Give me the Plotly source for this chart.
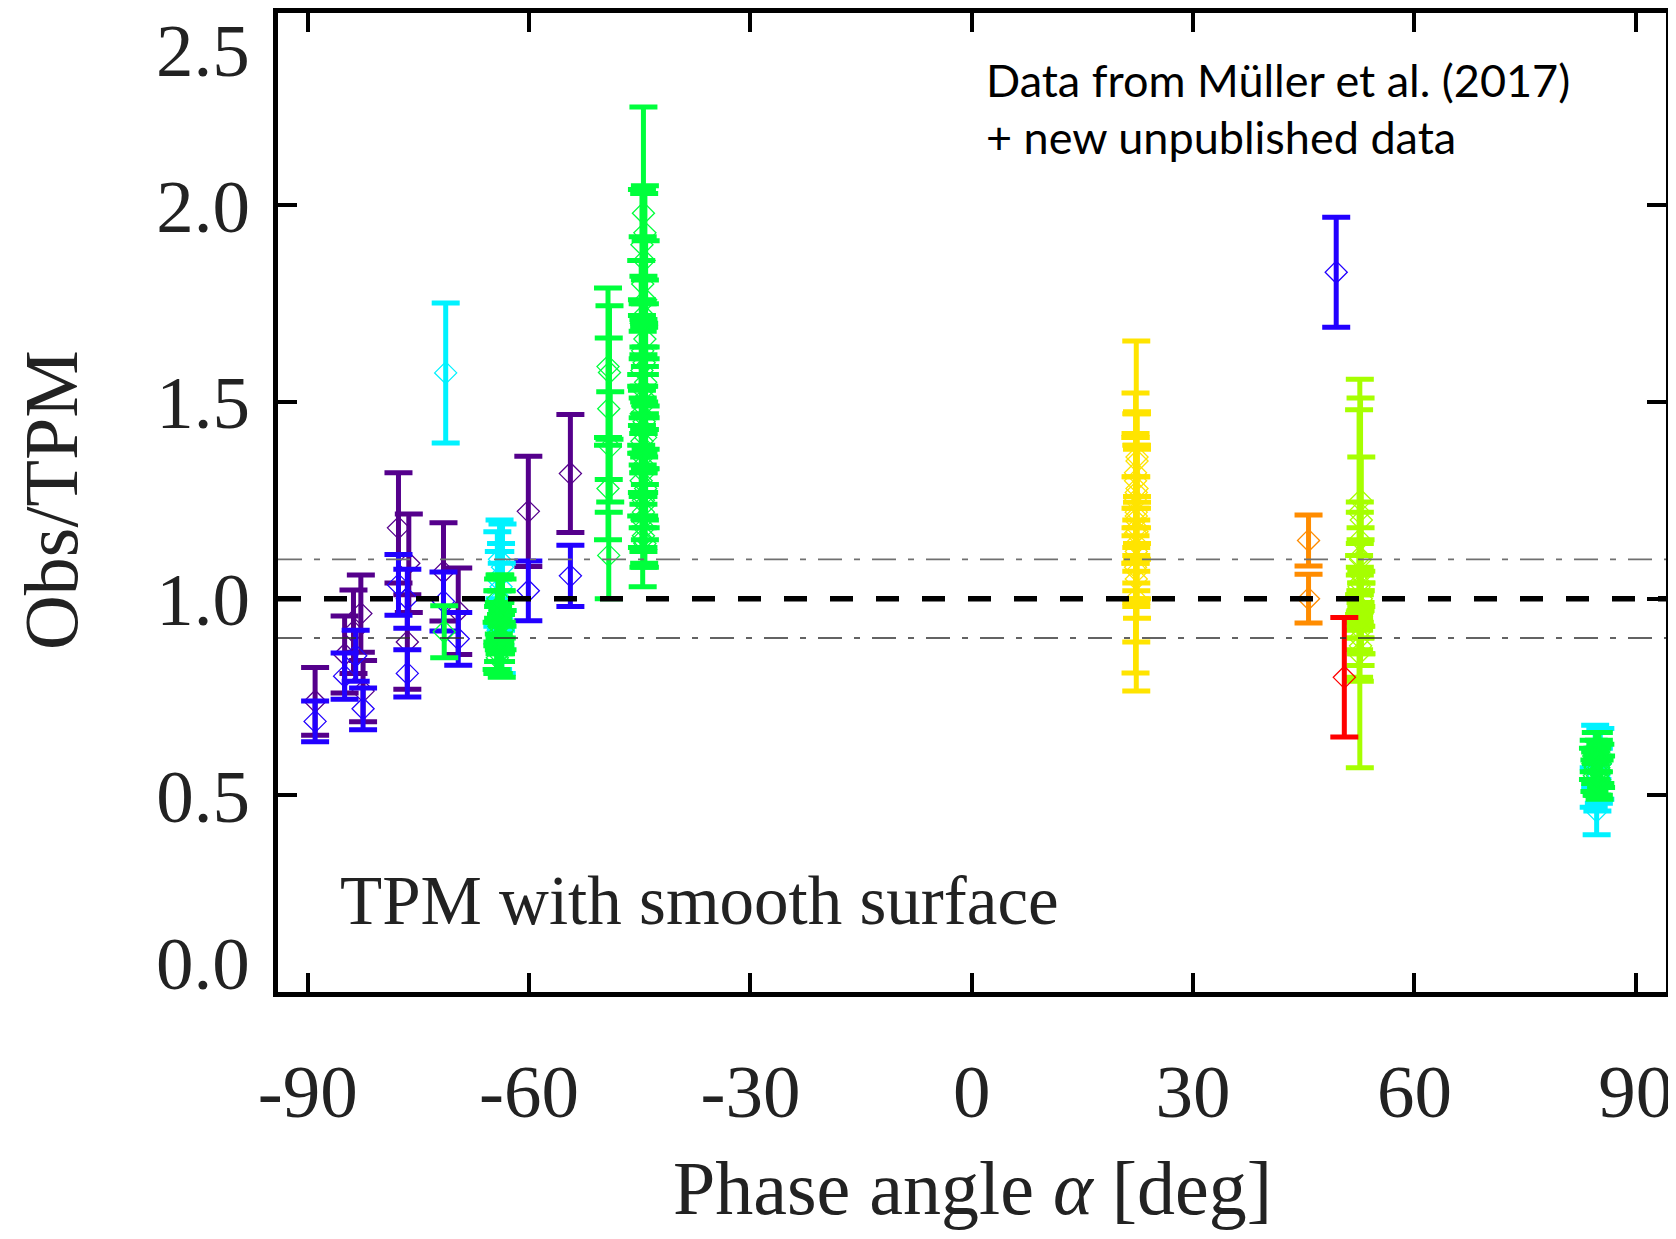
import plotly.graph_objects as go

# ---------------- data ----------------
# purple
purple_x = [-89.0, -85.0, -83.8, -82.8, -82.5, -77.7, -76.3, -76.5, -71.6, -69.6, -60.1, -54.4]
purple_y = [0.739, 0.858, 0.916, 0.962, 0.765, 1.18, 1.09, 0.89, 1.068, 0.968, 1.222, 1.318]
purple_e = [0.086, 0.098, 0.106, 0.098, 0.078, 0.14, 0.125, 0.12, 0.125, 0.11, 0.14, 0.15]

# blue
blue_x = [-89.0, -85.0, -83.5, -82.5, -77.7, -76.5, -76.5, -71.6, -69.6, -60.1, -54.4, 49.4]
blue_y = [0.688, 0.803, 0.855, 0.72, 1.035, 1.0, 0.81, 0.993, 0.898, 1.02, 1.058, 1.83]
blue_e = [0.052, 0.059, 0.065, 0.053, 0.077, 0.075, 0.06, 0.075, 0.067, 0.076, 0.078, 0.14]

# cyan
cyan_x = [-71.3, -64.0, -63.6, -64.3, -63.8, -64.1, -63.7, -64.2, -63.9,
          84.7, 84.5, 85.0, 84.3, 85.2, 84.8]
cyan_y = [1.574, 1.10, 1.08, 1.05, 1.03, 0.98, 0.95, 0.92, 1.00,
          0.46, 0.60, 0.55, 0.52, 0.58, 0.50]
cyan_e = [0.178, 0.10, 0.11, 0.12, 0.11, 0.14, 0.14, 0.10, 0.12,
          0.06, 0.078, 0.07, 0.05, 0.09, 0.04]

# green
green_x = [-71.5,
           -64.0, -63.7, -64.3, -63.9, -64.1, -63.6, -64.2, -63.8, -64.0, -64.4,
           -63.7, -64.1, -63.9, -64.2, -63.6, -64.0, -63.8, -64.3,
           -49.3, -49.1, -49.2, -49.0, -49.3, -49.2,
           -44.5, -44.3, -44.7, -44.4, -44.6, -44.2, -44.5, -44.8, -44.3, -44.6,
           -44.4, -44.7, -44.2, -44.5, -44.3, -44.6, -44.8, -44.4, -44.5, -44.2,
           -44.7, -44.3, -44.6, -44.5, -44.4, -44.8, -44.2, -44.6, -44.3, -44.5,
           -44.7, -44.4, -44.5, -44.6, -44.3, -44.5,
           84.6, 85.0, 84.3, 84.8, 85.2, 84.5, 84.9, 84.4, 85.1, 84.7,
           84.2, 85.3, 84.6, 85.0, 84.8]
green_y = [0.916,
           0.98, 0.96, 0.95, 0.94, 0.93, 0.92, 0.91, 0.90, 0.89, 0.88,
           0.87, 0.86, 0.97, 1.00, 0.99, 0.90, 0.94, 0.85,
           1.59, 1.575, 1.483, 1.386, 1.28, 1.11,
           1.98, 1.93, 1.90, 1.86, 1.80, 1.76, 1.72, 1.70, 1.66, 1.63,
           1.60, 1.58, 1.55, 1.53, 1.51, 1.49, 1.47, 1.45, 1.43, 1.41,
           1.40, 1.38, 1.36, 1.34, 1.32, 1.30, 1.28, 1.26, 1.24, 1.22,
           1.20, 1.18, 1.16, 1.15, 1.14, 1.25,
           0.62, 0.61, 0.60, 0.59, 0.58, 0.57, 0.56, 0.55, 0.54, 0.53,
           0.58, 0.56, 0.60, 0.57, 0.55]
green_e = [0.066,
           0.08, 0.06, 0.07, 0.05, 0.06, 0.05, 0.07, 0.06, 0.05, 0.06,
           0.07, 0.05, 0.09, 0.05, 0.06, 0.04, 0.08, 0.04,
           0.20, 0.17, 0.18, 0.14, 0.13, 0.11,
           0.27, 0.12, 0.14, 0.17, 0.12, 0.15, 0.10, 0.16, 0.09, 0.12,
           0.10, 0.14, 0.09, 0.11, 0.08, 0.12, 0.10, 0.09, 0.11, 0.08,
           0.13, 0.09, 0.10, 0.08, 0.11, 0.09, 0.10, 0.08, 0.09, 0.10,
           0.07, 0.09, 0.08, 0.12, 0.06, 0.12,
           0.04, 0.05, 0.04, 0.03, 0.05, 0.04, 0.03, 0.04, 0.05, 0.03,
           0.04, 0.04, 0.06, 0.07, 0.05]

# yellow-green
lime_x = [52.6, 52.7, 52.5, 52.8, 52.6, 52.7, 52.5, 52.8, 52.6, 52.7,
          52.5, 52.8, 52.6, 52.7, 52.5, 52.6, 52.8, 52.7, 52.6]
lime_y = [1.064, 1.25, 1.22, 1.20, 1.106, 1.06, 1.03, 1.00, 0.98, 0.96,
          0.94, 0.92, 0.90, 0.88, 0.86, 1.04, 0.95, 1.10, 1.15]
lime_e = [0.494, 0.26, 0.26, 0.16, 0.14, 0.09, 0.08, 0.07, 0.08, 0.06,
          0.07, 0.06, 0.11, 0.05, 0.06, 0.10, 0.09, 0.08, 0.07]

# yellow
yellow_x = [22.3, 22.2, 22.4, 22.3, 22.2, 22.4, 22.3, 22.2, 22.4, 22.3,
            22.2, 22.4, 22.3, 22.2, 22.4, 22.3, 22.2, 22.4, 22.3]
yellow_y = [1.21, 1.167, 1.36, 1.27, 1.25, 1.17, 1.14, 1.30, 1.28, 1.22,
            1.20, 1.18, 1.12, 1.08, 1.07, 1.05, 1.32, 1.35, 1.00]
yellow_e = [0.445, 0.356, 0.115, 0.20, 0.16, 0.22, 0.25, 0.12, 0.10, 0.09,
            0.11, 0.08, 0.08, 0.08, 0.07, 0.06, 0.09, 0.12, 0.02]

# orange
orange_x = [45.65, 45.65]
orange_y = [1.148, 1.0]
orange_e = [0.065, 0.062]

# red
red_x = [50.5]
red_y = [0.80]
red_e = [0.152]

x_tickvals = [-90, -60, -30, 0, 30, 60, 90]
x_ticktext = ["-90", "-60", "-30", "0", "30", "60", "90"]
y_tickvals = [0.5, 1.0, 1.5, 2.0]
y_ticktext = ["0.5", "1.0", "1.5", "2.0"]

series = [
    (purple_x, purple_y, purple_e, "#55008C"),
    (blue_x, blue_y, blue_e, "#2200FF"),
    (cyan_x, cyan_y, cyan_e, "#00F2FF"),
    (green_x, green_y, green_e, "#00FF3C"),
    (lime_x, lime_y, lime_e, "#A6FF00"),
    (yellow_x, yellow_y, yellow_e, "#FFE400"),
    (orange_x, orange_y, orange_e, "#FF8C00"),
    (red_x, red_y, red_e, "#FF0000"),
]

SERIF = "Liberation Serif"
TXT = "#222222"

fig = go.Figure()
for xs, ys, es, col in series:
    fig.add_trace(go.Scatter(
        x=xs, y=ys, mode="markers",
        marker=dict(symbol="diamond-open", size=17, color=col, line=dict(width=1.3, color=col)),
        error_y=dict(type="data", array=es, visible=True, color=col, thickness=5, width=14),
        showlegend=False,
    ))

# reference lines
fig.add_shape(type="line", xref="paper", x0=0, x1=1, yref="y", y0=1.1, y1=1.1,
              line=dict(color="#707070", width=1.6, dash="24px,12px,6px,12px"), layer="above")
fig.add_shape(type="line", xref="paper", x0=0, x1=1, yref="y", y0=0.9, y1=0.9,
              line=dict(color="#303030", width=1.6, dash="24px,12px,6px,12px"), layer="above")
fig.add_shape(type="line", xref="paper", x0=0, x1=1, yref="y", y0=1.0, y1=1.0,
              line=dict(color="black", width=5.5, dash="23px,23px"), layer="above")

# the page body adds an 8px margin, so the figure is 1668x1223
fig.update_layout(
    width=1668, height=1223,
    margin=dict(l=270, r=10, t=5, b=239, autoexpand=False),
    paper_bgcolor="white", plot_bgcolor="white",
    font=dict(family=SERIF, color=TXT, size=75),
    xaxis=dict(
        range=[-94.03, 94.1], tickvals=x_tickvals, ticktext=x_ticktext,
        ticks="inside", ticklen=19, tickwidth=3.5, tickcolor="black",
        showline=True, linewidth=5, linecolor="black", mirror="ticks",
        showgrid=False, zeroline=False, automargin=False,
        tickfont=dict(family=SERIF, size=75, color=TXT),
        ticklabelstandoff=30,
    ),
    yaxis=dict(
        range=[0, 2.489], tickvals=y_tickvals, ticktext=y_ticktext,
        ticks="inside", ticklen=19, tickwidth=3.5, tickcolor="black",
        showline=True, linewidth=5, linecolor="black", mirror="ticks",
        showgrid=False, zeroline=False, automargin=False,
        tickfont=dict(family=SERIF, size=75, color=TXT),
        ticklabelstandoff=8,
    ),
)

# axis titles
fig.add_annotation(text="Phase angle <i>α</i> [deg]", xref="paper", yref="paper", x=0.5, y=-0.2002,
                   xanchor="center", yanchor="middle", showarrow=False,
                   font=dict(family=SERIF, size=76, color=TXT))
fig.add_annotation(text="Obs/TPM", xref="paper", yref="paper", x=-0.1635, y=0.5026, textangle=-90,
                   xanchor="center", yanchor="middle", showarrow=False,
                   font=dict(family=SERIF, size=76, color=TXT))

# end-point y tick labels placed inside the axis span
fig.add_annotation(text="2.5", xref="paper", yref="paper", x=0, y=0.9612, xshift=-26,
                   xanchor="right", yanchor="middle", showarrow=False,
                   font=dict(family=SERIF, size=75, color=TXT))
fig.add_annotation(text="0.0", xref="paper", yref="paper", x=0, y=0.0288, xshift=-26,
                   xanchor="right", yanchor="middle", showarrow=False,
                   font=dict(family=SERIF, size=75, color=TXT))

fig.add_annotation(text="TPM with smooth surface", xref="paper", yref="paper", x=0.0432, y=0.093,
                   xanchor="left", yanchor="middle", showarrow=False,
                   font=dict(family=SERIF, size=69, color=TXT))
fig.add_annotation(text="Data from Müller et al. (2017)", xref="paper", yref="paper", x=0.5086, y=0.9316,
                   xanchor="left", yanchor="middle", showarrow=False,
                   font=dict(family="Lato", size=45, color="black"))
fig.add_annotation(text="+ new unpublished data", xref="paper", yref="paper", x=0.5086, y=0.8733,
                   xanchor="left", yanchor="middle", showarrow=False,
                   font=dict(family="Lato", size=45, color="black"))

fig.write_html("out.html")
